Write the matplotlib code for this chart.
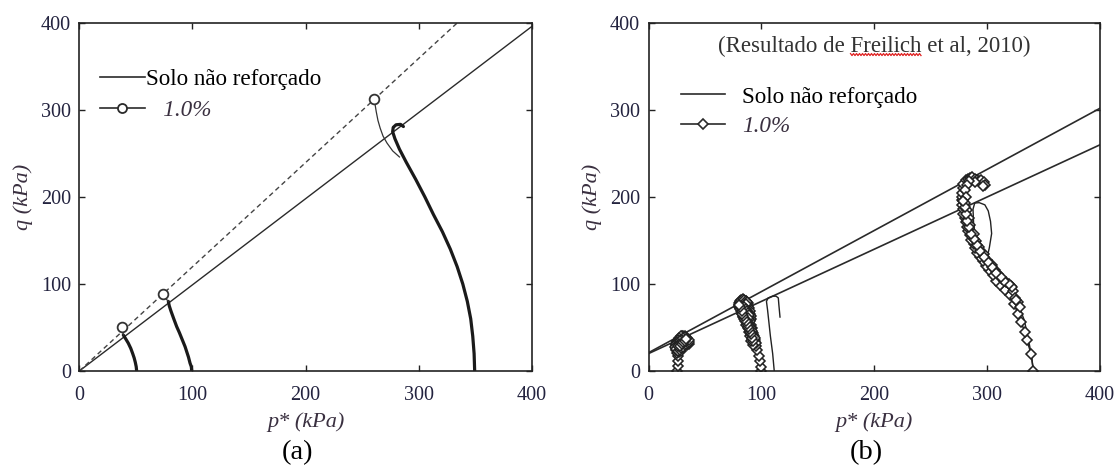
import matplotlib
matplotlib.use('Agg')
import matplotlib.pyplot as plt
from matplotlib.lines import Line2D
import numpy as np

plt.rcParams['font.family'] = ['Liberation Serif', 'DejaVu Serif']

# ---------------- data ----------------
ticks = [0, 100, 200, 300, 400]
tick_labels = ['0', '100', '200', '300', '400']

# panel (a): failure envelopes
a_env_p = [0, 400]
a_env_q = [0, 396]
a_env_r_p = [0, 334]
a_env_r_q = [0, 400]

# panel (a): unreinforced stress paths (thick)
a_u1_p = [50.7, 50.3, 49.5, 48.5, 47.2, 45.5, 43.3, 41, 38.9]
a_u1_q = [0, 5, 10, 15, 20, 26, 32, 37, 41.4]
a_u2_p = [99.4, 99, 97.9, 96.5, 95, 93.5, 91, 88.5, 86.1, 83.5, 81, 79.5, 78.7]
a_u2_q = [0, 5, 9, 16, 22, 28, 36, 44, 51, 60, 69, 75, 80]
a_u3_p = [349.5, 349, 347.8, 346, 343, 339, 334, 328, 321, 313, 305.5, 297.5, 289, 283, 279,
          277, 277.5, 280, 284, 286.5]
a_u3_q = [0, 20, 40, 60, 80, 100, 120, 140, 160, 180, 200, 220, 240, 255, 267,
          275, 280, 283, 283.5, 281]

# panel (a): 1.0% paths (peak marker + thin path)
a_r1_p = [37.5, 38.2, 38.9]
a_r1_q = [51, 46, 41.4]
a_r2_p = [73.7, 76, 78.7]
a_r2_q = [88.5, 84, 80]
a_r3_p = [260.6, 261.5, 262.5, 264, 266, 268.5, 272, 277, 283]
a_r3_q = [313, 306, 298, 288, 279, 270, 262, 253, 246]

# panel (b): envelopes
b_env1_p = [0, 400]
b_env1_q = [21, 302]
b_env2_p = [0, 400]
b_env2_q = [20, 260]

# panel (b): unreinforced stress paths (thin)
b_u2_p = [111.4, 110, 108, 105.5, 104.5, 106, 110, 113, 115, 115.5, 116.5]
b_u2_q = [0, 20, 40, 70, 80, 84, 86, 86, 84, 76, 62]
b_u3_p = [341, 339, 336, 333, 329, 324, 318, 311, 305, 301, 300, 302, 304, 303, 301, 298, 293, 289,
          287.5, 288, 289.5, 292]
b_u3_q = [0, 20, 40, 58, 72, 84, 95, 103, 111, 120, 130, 142, 158, 172, 184, 191, 193.5, 193,
          186, 170, 155, 140]

# panel (b): 1.0% stress paths (diamonds)
b_r1_p = [25.5, 25.8, 26.2, 26, 25.5, 24.5, 24, 24.5, 25.5, 26.5, 28, 29.5, 31, 32.5, 33.5, 34.5,
          35, 35.5, 34.5, 33, 31.5, 30, 28.5, 27.5, 26.5, 26, 27, 28.5, 30, 31.5, 32.5, 31, 29,
          27.5, 25.5, 26, 27.5, 29, 30.5, 32, 33.5, 34,
          33, 31.5, 30, 28.5, 27, 25.5, 24.5, 24, 25, 26.5, 28, 29.5, 31, 32.5, 34, 33, 31.5,
          30, 28.5, 27, 26, 25, 24, 23.5, 24.5, 26, 27.5, 29, 30.5, 32, 33.5, 35, 36, 35.5, 34,
          32.5, 31, 29.5, 28, 27, 26.5, 28, 29.5, 31, 32.5, 33.5]
b_r1_q = [0, 6, 12, 17, 21, 24, 27, 30, 33, 35.5, 37.5, 39, 40, 40, 38.5, 36.5,
          34, 31.5, 30, 31.5, 33.5, 35, 33, 30, 27, 24, 22, 23.5, 26, 28.5, 31, 30, 28,
          26, 28, 31, 34, 36, 37.5, 36.5, 34.5, 32.5,
          33, 35, 37, 38.5, 36.5, 34, 31.5, 29, 26.5, 25, 27, 29.5, 31.5, 33.5, 35.5, 37.5, 39,
          40.5, 40, 38, 36, 33, 30.5, 27.5, 25.5, 23, 24.5, 26.5, 28, 29.5, 30.5, 32, 33.5, 35.5,
          37.5, 39, 38, 36, 34, 31.5, 29, 28.5, 31, 33, 35, 36.5]
b_r2_p = [100, 99.5, 99, 98, 96.5, 95.5, 94.5, 93.5, 92.5, 91.5, 90.5, 89.5, 88.5, 87.5, 86.5,
          85.5, 84.5, 83.5, 82.5, 81.5, 80.5, 80, 80.5, 81.5, 83, 84.5, 86, 87, 87.5, 86.5, 88,
          89, 87, 85, 83, 82, 84, 85.5, 86, 87.5, 88.5, 90, 89, 91, 92, 90.5, 92.5, 93.5, 92,
          94.5, 95, 93, 91, 90, 89, 88, 86.5, 85.5, 84, 83, 82, 81,
          82, 83.5, 85, 86.5, 88, 88.5, 89, 90, 89.5, 90.5, 91, 90, 89, 88, 87, 86, 85, 84,
          82.5, 81.5, 82, 83.5, 85, 86.5, 87.5, 86, 85, 86, 87, 88, 89, 88, 87, 88.5, 89.5, 91,
          92, 91.5, 93, 94, 93, 92, 91, 90, 89, 88, 87, 86, 85, 84, 83, 82.5, 81, 80.5]
b_r2_q = [0, 5, 11, 17, 24, 29, 33, 37, 41, 45, 48, 51, 54, 57, 60,
          63, 66, 68, 70, 72, 74, 76, 78, 80, 81, 81, 80, 78, 76, 73, 71,
          68, 67, 71, 74, 77, 78, 75, 70, 65, 62, 59, 56, 53, 50, 46, 44, 40, 37,
          36, 32, 30, 34, 40, 45, 49, 53, 58, 62, 66, 69, 71,
          73, 76, 78.5, 79.5, 78, 75, 72, 69, 66, 63, 60, 57, 60, 63, 66, 69, 72, 75,
          78, 79.5, 81.5, 82.5, 82, 81, 79.5, 76.5, 74, 71.5, 69, 66.5, 64, 61, 58, 55, 52, 49,
          46, 43, 41, 38, 35, 38, 42, 45, 48, 51, 54, 57, 60, 63, 66, 69, 73, 75.5]
b_r3_p = [341, 339, 335, 333.5, 330, 327, 324, 320, 316, 311, 308, 305, 302, 299, 296, 294, 291,
          289, 288, 286, 284.5, 283, 282, 281, 280, 279, 278.5, 278, 277.5, 277.5, 278, 278.5,
          279, 281, 283, 285, 287, 289, 291, 293, 295, 297, 298, 296, 289, 284, 282, 280, 281,
          280, 282, 284, 285, 288, 290, 293, 297, 300, 304, 307, 310, 313, 317, 321, 323,
          325, 327, 329, 326, 322, 319, 315, 312, 308, 304, 301, 297, 294, 291, 288, 286, 284,
          282.5, 281, 280, 279]
b_r3_q = [0, 20, 36, 45, 56, 66, 77, 87, 93, 99, 104, 110, 116, 121, 126, 131, 136,
          141, 146, 151, 156, 161, 166, 171, 176, 181, 186, 191, 196, 200, 205, 210,
          215, 219, 221, 222, 223, 221, 219, 218, 219, 217, 214, 213, 217, 218, 214, 208, 200,
          193, 185, 176, 168, 158, 150, 142, 134, 128, 122, 116, 111, 106, 102, 98, 92,
          84, 79, 74, 82, 96, 100, 104, 108, 113, 119, 125, 131, 138, 145, 152, 158, 165,
          172, 180, 188, 195]

legend_labels = ['Solo não reforçado', '1.0%']
title_b = ['(Resultado de ', 'Freilich', ' et al, 2010)']

# ---------------- style ----------------
W, H = 1120, 466
fig = plt.figure(figsize=(W / 100, H / 100), dpi=100)
ax_a = fig.add_axes([79.3 / W, (H - 371) / H, 452.5 / W, 348 / H])
ax_b = fig.add_axes([648.5 / W, (H - 371) / H, 451.5 / W, 348 / H])

tick_col = '#23233f'
lab_col = '#3a3040'
line_col = '#2a2a2a'

for ax in (ax_a, ax_b):
    ax.set_xlim(0, 400)
    ax.set_ylim(0, 400)
    ax.set_xticks(ticks)
    ax.set_xticklabels(tick_labels)
    ax.set_yticks(ticks)
    ax.set_yticklabels(tick_labels)
    ax.tick_params(direction='in', length=4, width=1.0, top=True, right=True,
                   labelsize=14.5, colors='#222222', labelcolor=tick_col)
    ax.tick_params(axis='x', pad=11)
    ax.tick_params(axis='y', pad=6)
    for s in ax.spines.values():
        s.set_linewidth(1.2)
        s.set_color('#222222')
    ax.set_xlabel('p* (kPa)', fontsize=16, style='italic', color=lab_col, labelpad=5)
    ax.set_ylabel('q (kPa)', fontsize=16, style='italic', color=lab_col, labelpad=6)

# panel (a)
ax_a.plot(a_env_p, a_env_q, color=line_col, lw=1.0)
ax_a.plot(a_env_r_p, a_env_r_q, color='#444444', lw=1.0, ls=(0, (3.5, 2.5)))
for p, q in ((a_u1_p, a_u1_q), (a_u2_p, a_u2_q), (a_u3_p, a_u3_q)):
    ax_a.plot(p, q, color='#1a1a1a', lw=2.3, solid_capstyle='round', solid_joinstyle='round')
for p, q in ((a_r1_p, a_r1_q), (a_r2_p, a_r2_q), (a_r3_p, a_r3_q)):
    ax_a.plot(p, q, color='#333333', lw=0.9, marker='o', markevery=[0], ms=7,
              mfc='white', mec='#333333', mew=1.3)

h1 = Line2D([], [], color=line_col, lw=1.2)
h2 = Line2D([], [], color=line_col, lw=1.2, marker='o', ms=6.5, mfc='white', mec=line_col, mew=1.3)
leg_a = ax_a.legend([h1, h2], [legend_labels[0], '   ' + legend_labels[1]], loc='upper left',
                    bbox_to_anchor=(0.045, 0.868), frameon=False, fontsize=16.7,
                    handlelength=1.95, handletextpad=0.05, labelspacing=0.42, borderpad=0,
                    borderaxespad=0)
leg_a.get_texts()[1].set_style('italic')
leg_a.get_texts()[1].set_color(lab_col)

# panel (b)
ax_b.plot(b_env1_p, b_env1_q, color=line_col, lw=1.2)
ax_b.plot(b_env2_p, b_env2_q, color=line_col, lw=1.2)
ax_b.plot(b_u2_p, b_u2_q, color='#222222', lw=1.0)
ax_b.plot(b_u3_p, b_u3_q, color='#222222', lw=1.0)
for p, q in ((b_r1_p, b_r1_q), (b_r2_p, b_r2_q), (b_r3_p, b_r3_q)):
    ax_b.plot(p, q, color='#222222', lw=1.1, marker='D', ms=5.5,
              mfc='white', mec='#222222', mew=1.15)

h3 = Line2D([], [], color=line_col, lw=1.2, marker='D', ms=5.5, mfc='white', mec=line_col, mew=1.2)
leg_b = ax_b.legend([h1, h3], legend_labels, loc='upper left',
                    bbox_to_anchor=(0.072, 0.818), frameon=False, fontsize=16.7,
                    handlelength=1.9, handletextpad=0.75, labelspacing=0.35, borderpad=0,
                    borderaxespad=0)
leg_b.get_texts()[1].set_style('italic')
leg_b.get_texts()[1].set_color(lab_col)

t_title = ax_b.text(0.5, 0.934, ''.join(title_b), transform=ax_b.transAxes, ha='center',
                    va='center', fontsize=16.5, color='#333333')

fig.text(297.5 / W, 1 - 453 / H, '(a)', ha='center', va='center', fontsize=20.5, color='black')
fig.text(866 / W, 1 - 453 / H, '(b)', ha='center', va='center', fontsize=20.5, color='black')

# red spell-check squiggle under "Freilich"
fig.canvas.draw()
r = fig.canvas.get_renderer()
bb = t_title.get_window_extent(r)
tmp1 = fig.text(0, 0, title_b[0], fontsize=16.5)
tmp2 = fig.text(0, 0, title_b[0] + title_b[1], fontsize=16.5)
w1 = tmp1.get_window_extent(r).width
w2 = tmp2.get_window_extent(r).width
tmp1.remove(); tmp2.remove()
x0 = bb.x0 + w1
x1 = bb.x0 + w2
ybase = bb.y0 + 2
xs = np.arange(x0, x1, 1.5)
ys = ybase + np.where((np.arange(len(xs)) % 2) == 0, 1.0, -1.0)
inv = fig.transFigure.inverted()
pts = inv.transform(np.column_stack([xs, ys]))
fig.add_artist(Line2D(pts[:, 0], pts[:, 1], color='#e02020', lw=0.9, transform=fig.transFigure))

fig.savefig('out.png', dpi=100)
